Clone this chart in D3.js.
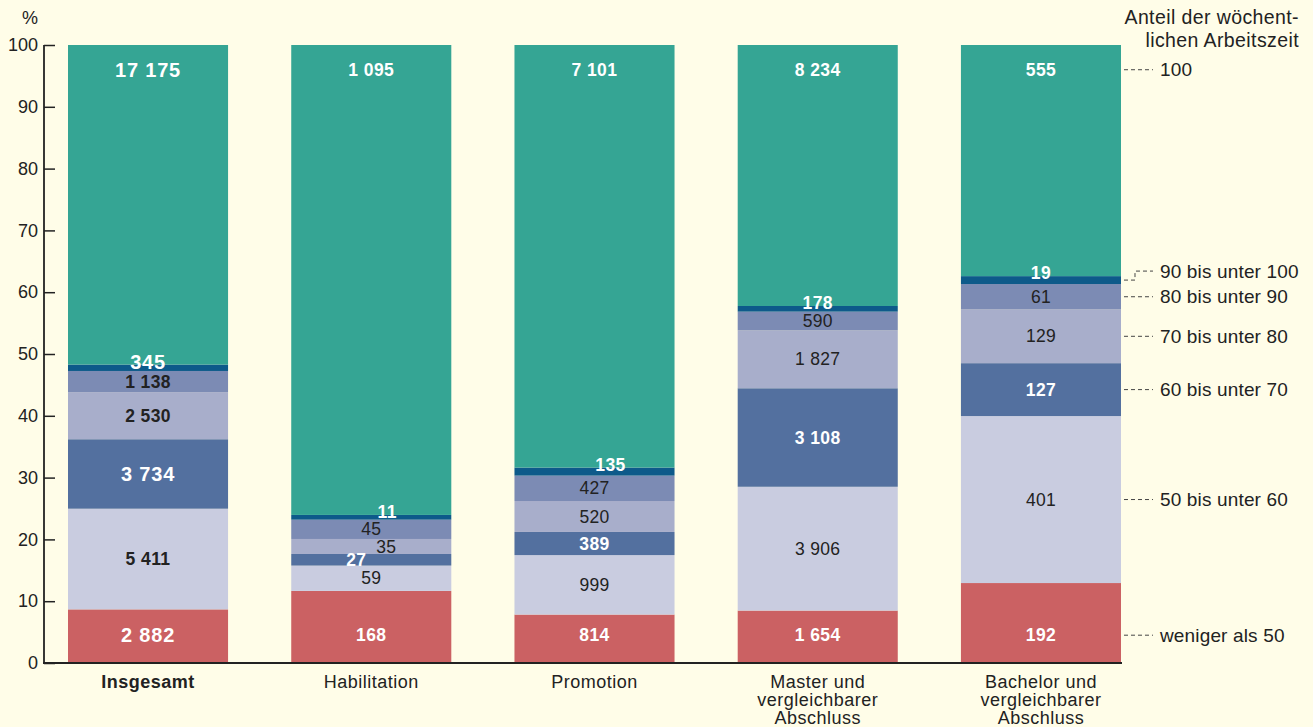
<!DOCTYPE html>
<html>
<head>
<meta charset="utf-8">
<script src="https://cdn.jsdelivr.net/npm/d3@7"></script>
<style>
  body { margin: 0; background: #fffde8; }
  svg { display: block; font-family: "Liberation Sans", Arial, sans-serif; }
</style>
</head>
<body>
<svg id="chart" width="1313" height="727"></svg>
<script>
var width = 1313,
    height = 727;

// categories (x axis), multi-line labels
var categories = ["Insgesamt", "Habilitation", "Promotion", "Master und vergleichbarer Abschluss", "Bachelor und vergleichbarer Abschluss"];
var categoryLines = [["Insgesamt"], ["Habilitation"], ["Promotion"], ["Master und", "vergleichbarer", "Abschluss"], ["Bachelor und", "vergleichbarer", "Abschluss"]];

// stack segments, bottom to top
var segments = ["weniger als 50", "50 bis unter 60", "60 bis unter 70", "70 bis unter 80", "80 bis unter 90", "90 bis unter 100", "100"];
var segmentColors = ["#cb6163", "#c9cce0", "#53709f", "#a8aecb", "#7c8bb4", "#0d5a8a", "#35a594"];
var segmentWhite = [true, false, true, false, false, true, true];

// counts per category, one array per segment
var lt50    = [2882, 168, 814, 1654, 192];
var s50_60  = [5411, 59, 999, 3906, 401];
var s60_70  = [3734, 27, 389, 3108, 127];
var s70_80  = [2530, 35, 520, 1827, 129];
var s80_90  = [1138, 45, 427, 590, 61];
var s90_100 = [345, 11, 135, 178, 19];
var full    = [17175, 1095, 7101, 8234, 555];
var series = [lt50, s50_60, s60_70, s70_80, s80_90, s90_100, full];

var yTicks = [0, 10, 20, 30, 40, 50, 60, 70, 80, 90, 100];

var fmt = d3.formatLocale({decimal: ",", thousands: " ", grouping: [3], currency: ["", ""]}).format(",d");

var svg = d3.select("#chart");

var x = d3.scaleBand()
    .domain(categories)
    .range([43, 1146])
    .paddingInner(0.283)
    .paddingOuter(0.112);

var y = d3.scaleLinear().domain([0, 100]).range([663, 45]);

// build stacked shares
var rows = categories.map(function(c, i) {
  var total = d3.sum(series, function(s) { return s[i]; });
  var cum = 0;
  return series.map(function(s, k) {
    var v = s[i];
    var d = {cat: c, ci: i, k: k, value: v, y0: cum / total * 100, y1: (cum + v) / total * 100};
    cum += v;
    return d;
  });
});
var cells = d3.merge(rows);

svg.append("g").selectAll("rect")
    .data(cells)
  .enter().append("rect")
    .attr("x", function(d) { return x(d.cat); })
    .attr("width", x.bandwidth())
    .attr("y", function(d) { return y(d.y1); })
    .attr("height", function(d) { return y(d.y0) - y(d.y1); })
    .attr("fill", function(d) { return segmentColors[d.k]; });

// label nudges for thin segments (Habilitation / Promotion)
function labelDx(d) {
  if (d.ci == 1 && d.k == 5) return 16;
  if (d.ci == 2 && d.k == 5) return 16;
  if (d.ci == 1 && d.k == 3) return 15;
  if (d.ci == 1 && d.k == 2) return -15;
  return 0;
}
function labelY(d) {
  if (d.k == 0) return y(4.5);
  if (d.k == 6) return y(96);
  if (d.k == 5) return y(d.y1) - 3;
  return y((d.y0 + d.y1) / 2);
}

svg.append("g").selectAll("text")
    .data(cells)
  .enter().append("text")
    .attr("x", function(d) { return x(d.cat) + x.bandwidth() / 2 + labelDx(d); })
    .attr("y", function(d) { return labelY(d); })
    .attr("dy", "0.35em")
    .attr("text-anchor", "middle")
    .style("font-size", function(d) { return (d.ci == 0 && segmentWhite[d.k]) ? "20px" : "17.5px"; })
    .style("font-weight", function(d) { return (segmentWhite[d.k] || d.ci == 0) ? "bold" : "normal"; })
    .style("letter-spacing", function(d) {
      if (d.ci == 0 && segmentWhite[d.k]) return "0.8px";
      return (segmentWhite[d.k] || d.ci == 0) ? "0.4px" : "0.3px";
    })
    .attr("fill", function(d) { return segmentWhite[d.k] ? "#fff" : "#222"; })
    .text(function(d) { return fmt(d.value); });

// y axis
var yAxis = svg.append("g").attr("transform", "translate(44,0)")
    .call(d3.axisRight(y).tickValues(yTicks).tickSize(11).tickFormat(function(d) { return d; }));
yAxis.select(".domain").remove();
yAxis.selectAll(".tick line").attr("stroke", "#222").attr("stroke-width", 1.5);
yAxis.selectAll(".tick text")
    .attr("x", -6)
    .attr("text-anchor", "end")
    .style("font-size", "18px")
    .style("font-family", "Liberation Sans, Arial, sans-serif")
    .attr("fill", "#222");

svg.append("line")
    .attr("x1", 44).attr("x2", 44)
    .attr("y1", y(100)).attr("y2", y(0))
    .attr("stroke", "#222").attr("stroke-width", 1.8);
svg.append("line")
    .attr("x1", 43).attr("x2", x(categories[4]) + x.bandwidth() + 1)
    .attr("y1", y(0)).attr("y2", y(0))
    .attr("stroke", "#222").attr("stroke-width", 1.8);

svg.append("text")
    .attr("x", 30).attr("y", 24)
    .attr("text-anchor", "middle")
    .style("font-size", "18px")
    .attr("fill", "#222")
    .text("%");

// x category labels
var xl = svg.append("g").selectAll("text")
    .data(categories)
  .enter().append("text")
    .attr("x", function(d) { return x(d) + x.bandwidth() / 2; })
    .attr("y", 688)
    .attr("text-anchor", "middle")
    .style("font-size", "18px")
    .style("letter-spacing", "0.5px")
    .style("font-weight", function(d, i) { return i == 0 ? "bold" : "normal"; })
    .attr("fill", "#222");
xl.each(function(d, i) {
  var t = d3.select(this);
  categoryLines[i].forEach(function(line, j) {
    t.append("tspan").attr("x", x(d) + x.bandwidth() / 2).attr("dy", j == 0 ? 0 : 18).text(line);
  });
});

// right-hand legend with dashed leaders, placed at the last bar's segments
var last = rows[4];
var barRight = x(categories[4]) + x.bandwidth();
var legendY = last.map(function(d) {
  if (d.k == 0) return y(4.5);
  if (d.k == 6) return y(96);
  if (d.k == 5) return y((d.y0 + d.y1) / 2) - 9;
  return y((d.y0 + d.y1) / 2);
});

var leg = svg.append("g");
last.forEach(function(d, k) {
  var ly = legendY[k];
  var path;
  if (k == 5) {
    var by = y((d.y0 + d.y1) / 2);
    path = "M" + (barRight + 3) + "," + by + "H" + (barRight + 14) + "V" + ly + "H" + (barRight + 32);
  } else {
    path = "M" + (barRight + 3) + "," + ly + "H" + (barRight + 32);
  }
  leg.append("path")
      .attr("d", path)
      .attr("fill", "none")
      .attr("stroke", "#444")
      .attr("stroke-width", 1)
      .attr("stroke-dasharray", "4,3");
  leg.append("text")
      .attr("x", barRight + 39)
      .attr("y", ly)
      .attr("dy", "0.35em")
      .style("font-size", "19px")
      .style("letter-spacing", "0.15px")
      .attr("fill", "#222")
      .text(segments[k]);
});

svg.append("text")
    .attr("x", 1299).attr("y", 24)
    .attr("text-anchor", "end")
    .style("font-size", "19.5px")
    .style("letter-spacing", "0.4px")
    .attr("fill", "#222")
    .text("Anteil der wöchent-");
svg.append("text")
    .attr("x", 1299).attr("y", 47)
    .attr("text-anchor", "end")
    .style("font-size", "19.5px")
    .style("letter-spacing", "0.4px")
    .attr("fill", "#222")
    .text("lichen Arbeitszeit");
</script>
</body>
</html>
